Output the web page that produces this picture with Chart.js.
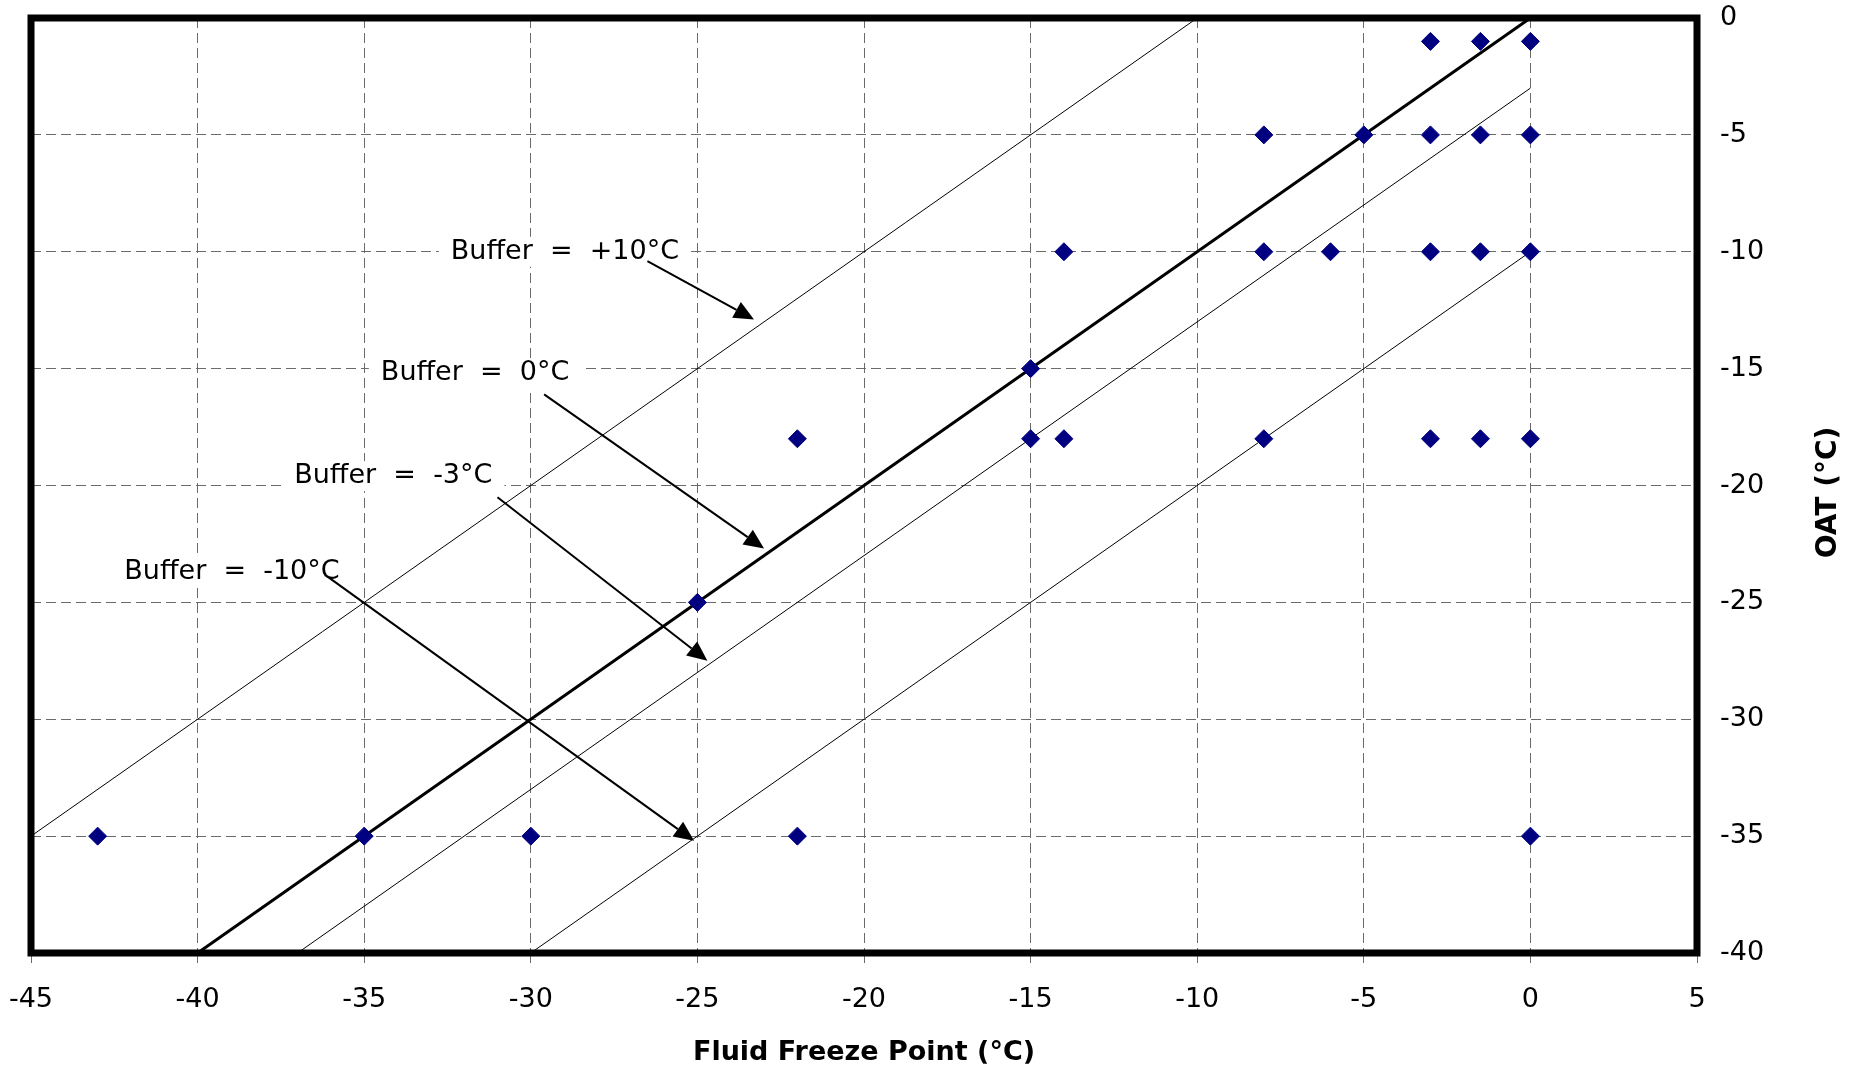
<!DOCTYPE html>
<html>
<head>
<meta charset="utf-8">
<script src="https://cdn.jsdelivr.net/npm/chart.js@4/dist/chart.umd.min.js"></script>
<style>
  html, body { margin: 0; padding: 0; background: #fff; }
  #wrap { width: 1866px; height: 1071px; }
</style>
</head>
<body>
<div id="wrap"><canvas id="chart"></canvas></div>
<script>
// measured test points: fluid freeze point vs outside air temperature
const freezePoints = [
  -3, -1.5, 0,
  -8, -5, -3, -1.5, 0,
  -14, -8, -6, -3, -1.5, 0,
  -15,
  -22, -15, -14, -8, -3, -1.5, 0,
  -25,
  -43, -35, -30, -22, 0
];
const oatValues = [
  -1, -1, -1,
  -5, -5, -5, -5, -5,
  -10, -10, -10, -10, -10, -10,
  -15,
  -18, -18, -18, -18, -18, -18, -18,
  -25,
  -35, -35, -35, -35, -35
];

// buffer lines (OAT = freeze point + buffer), end points
const bufferNames = ['+10', '0', '-3', '-10'];
const lineStartX = [-45, -40, -37, -30];
const lineStartY = [-35, -40, -40, -40];
const lineEndX = [-10, 0, 0, 0];
const lineEndY = [0, 0, -3, -10];

// callouts
const calloutText = ['Buffer  =  +10°C', 'Buffer  =  0°C', 'Buffer  =  -3°C', 'Buffer  =  -10°C'];
const calloutX = [-32.4, -34.5, -37.1, -42.2];
const calloutY = [-10.0, -15.2, -19.6, -23.7];
const arrowFromX = [-26.5, -29.6, -31.0, -36.1];
const arrowFromY = [-10.4, -16.1, -20.5, -23.9];
const arrowToX = [-23.3, -23.0, -24.7, -25.1];
const arrowToY = [-12.9, -22.7, -27.5, -35.2];

const xTicks = [-45, -40, -35, -30, -25, -20, -15, -10, -5, 0, 5];
const yTicks = [0, -5, -10, -15, -20, -25, -30, -35, -40];

const FONT = "'DejaVu Sans', sans-serif";

const scatterPoints = freezePoints.map((x, i) => ({ x: x, y: oatValues[i] }));

const lineSets = bufferNames.map((name, i) => ({
  type: 'line',
  label: 'Buffer ' + name,
  data: [{ x: lineStartX[i], y: lineStartY[i] }, { x: lineEndX[i], y: lineEndY[i] }],
  borderColor: '#000',
  borderWidth: name === '0' ? 3 : 1,
  pointRadius: 0,
  fill: false,
  tension: 0
}));

// white boxes behind callout text, then text and arrows on top
const calloutPlugin = {
  id: 'callouts',
  beforeDatasetsDraw(chart) {
    const { ctx, scales: { x, y } } = chart;
    ctx.save();
    ctx.font = '27px ' + FONT;
    calloutText.forEach((t, i) => {
      const px = x.getPixelForValue(calloutX[i]);
      const py = y.getPixelForValue(calloutY[i]);
      const w = ctx.measureText(t).width;
      ctx.fillStyle = '#fff';
      ctx.fillRect(px - 12, py - 15, w + 24, 30);
    });
    ctx.restore();
  },
  afterDatasetsDraw(chart) {
    const { ctx, scales: { x, y } } = chart;
    ctx.save();
    ctx.font = '27px ' + FONT;
    ctx.fillStyle = '#000';
    ctx.textBaseline = 'middle';
    ctx.textAlign = 'left';
    calloutText.forEach((t, i) => {
      ctx.fillText(t, x.getPixelForValue(calloutX[i]), y.getPixelForValue(calloutY[i]));
    });
    // arrows
    ctx.strokeStyle = '#000';
    ctx.lineWidth = 2;
    for (let i = 0; i < arrowFromX.length; i++) {
      const x0 = x.getPixelForValue(arrowFromX[i]);
      const y0 = y.getPixelForValue(arrowFromY[i]);
      const x1 = x.getPixelForValue(arrowToX[i]);
      const y1 = y.getPixelForValue(arrowToY[i]);
      const a = Math.atan2(y1 - y0, x1 - x0);
      const len = 20, half = 9;
      const bx = x1 - len * Math.cos(a);
      const by = y1 - len * Math.sin(a);
      ctx.beginPath();
      ctx.moveTo(x0, y0);
      ctx.lineTo(bx, by);
      ctx.stroke();
      ctx.beginPath();
      ctx.moveTo(x1, y1);
      ctx.lineTo(bx + half * Math.sin(a), by - half * Math.cos(a));
      ctx.lineTo(bx - half * Math.sin(a), by + half * Math.cos(a));
      ctx.closePath();
      ctx.fillStyle = '#000';
      ctx.fill();
    }
    // heavy frame round the plot
    const area = chart.chartArea;
    ctx.lineWidth = 7;
    ctx.strokeRect(area.left, area.top, area.right - area.left, area.bottom - area.top);
    ctx.restore();
  },
  afterDraw(chart) {
    // y title reads bottom to top on the right side
    const { ctx, chartArea } = chart;
    ctx.save();
    ctx.translate(chartArea.right + 132, (chartArea.top + chartArea.bottom) / 2 + 7);
    ctx.rotate(-Math.PI / 2);
    ctx.font = 'bold 28px ' + FONT;
    ctx.fillStyle = '#000';
    ctx.textAlign = 'center';
    ctx.textBaseline = 'middle';
    ctx.fillText('OAT (°C)', 0, 0);
    ctx.restore();
  }
};

new Chart(document.getElementById('chart').getContext('2d'), {
  type: 'scatter',
  data: {
    datasets: [
      {
        label: 'Test points',
        data: scatterPoints,
        pointStyle: 'rectRot',
        pointRadius: 9,
        pointHoverRadius: 9,
        backgroundColor: '#000080',
        borderColor: '#000080',
        borderWidth: 1
      },
      ...lineSets
    ]
  },
  options: {
    responsive: true,
    maintainAspectRatio: false,
    animation: false,
    events: [],
    layout: { autoPadding: false, padding: { left: 31, top: 18, right: 0, bottom: 0 } },
    plugins: {
      legend: { display: false },
      tooltip: { enabled: false }
    },
    scales: {
      x: {
        type: 'linear',
        position: 'bottom',
        min: -45,
        max: 5,
        afterBuildTicks: (s) => { s.ticks = xTicks.map(v => ({ value: v })); },
        afterFit: (s) => {
          s.height = 118;
          s.paddingLeft = 0;
          s.paddingRight = 0;
        },
        border: { display: false, dash: [10, 5] },
        grid: {
          color: '#6a6a6a',
          lineWidth: 1,
          drawTicks: true,
          tickLength: 10,
          tickColor: '#6a6a6a',
          tickWidth: 1
        },
        ticks: {
          color: '#000',
          padding: 21,
          maxRotation: 0,
          font: { family: FONT, size: 27 }
        },
        title: {
          display: true,
          text: 'Fluid Freeze Point (°C)',
          color: '#000',
          font: { family: FONT, size: 27, weight: 'bold' },
          padding: { top: 0, bottom: 2 }
        }
      },
      y: {
        type: 'linear',
        position: 'right',
        min: -40,
        max: 0,
        afterBuildTicks: (s) => { s.ticks = yTicks.map(v => ({ value: v })); },
        afterFit: (s) => {
          s.width = 169;
          s.paddingTop = 0;
          s.paddingBottom = 0;
        },
        border: { display: false, dash: [10, 5] },
        grid: {
          color: '#6a6a6a',
          lineWidth: 1,
          drawTicks: false
        },
        ticks: {
          color: '#000',
          padding: 23,
          font: { family: FONT, size: 27 }
        }
      }
    }
  },
  plugins: [calloutPlugin]
});
</script>
</body>
</html>
